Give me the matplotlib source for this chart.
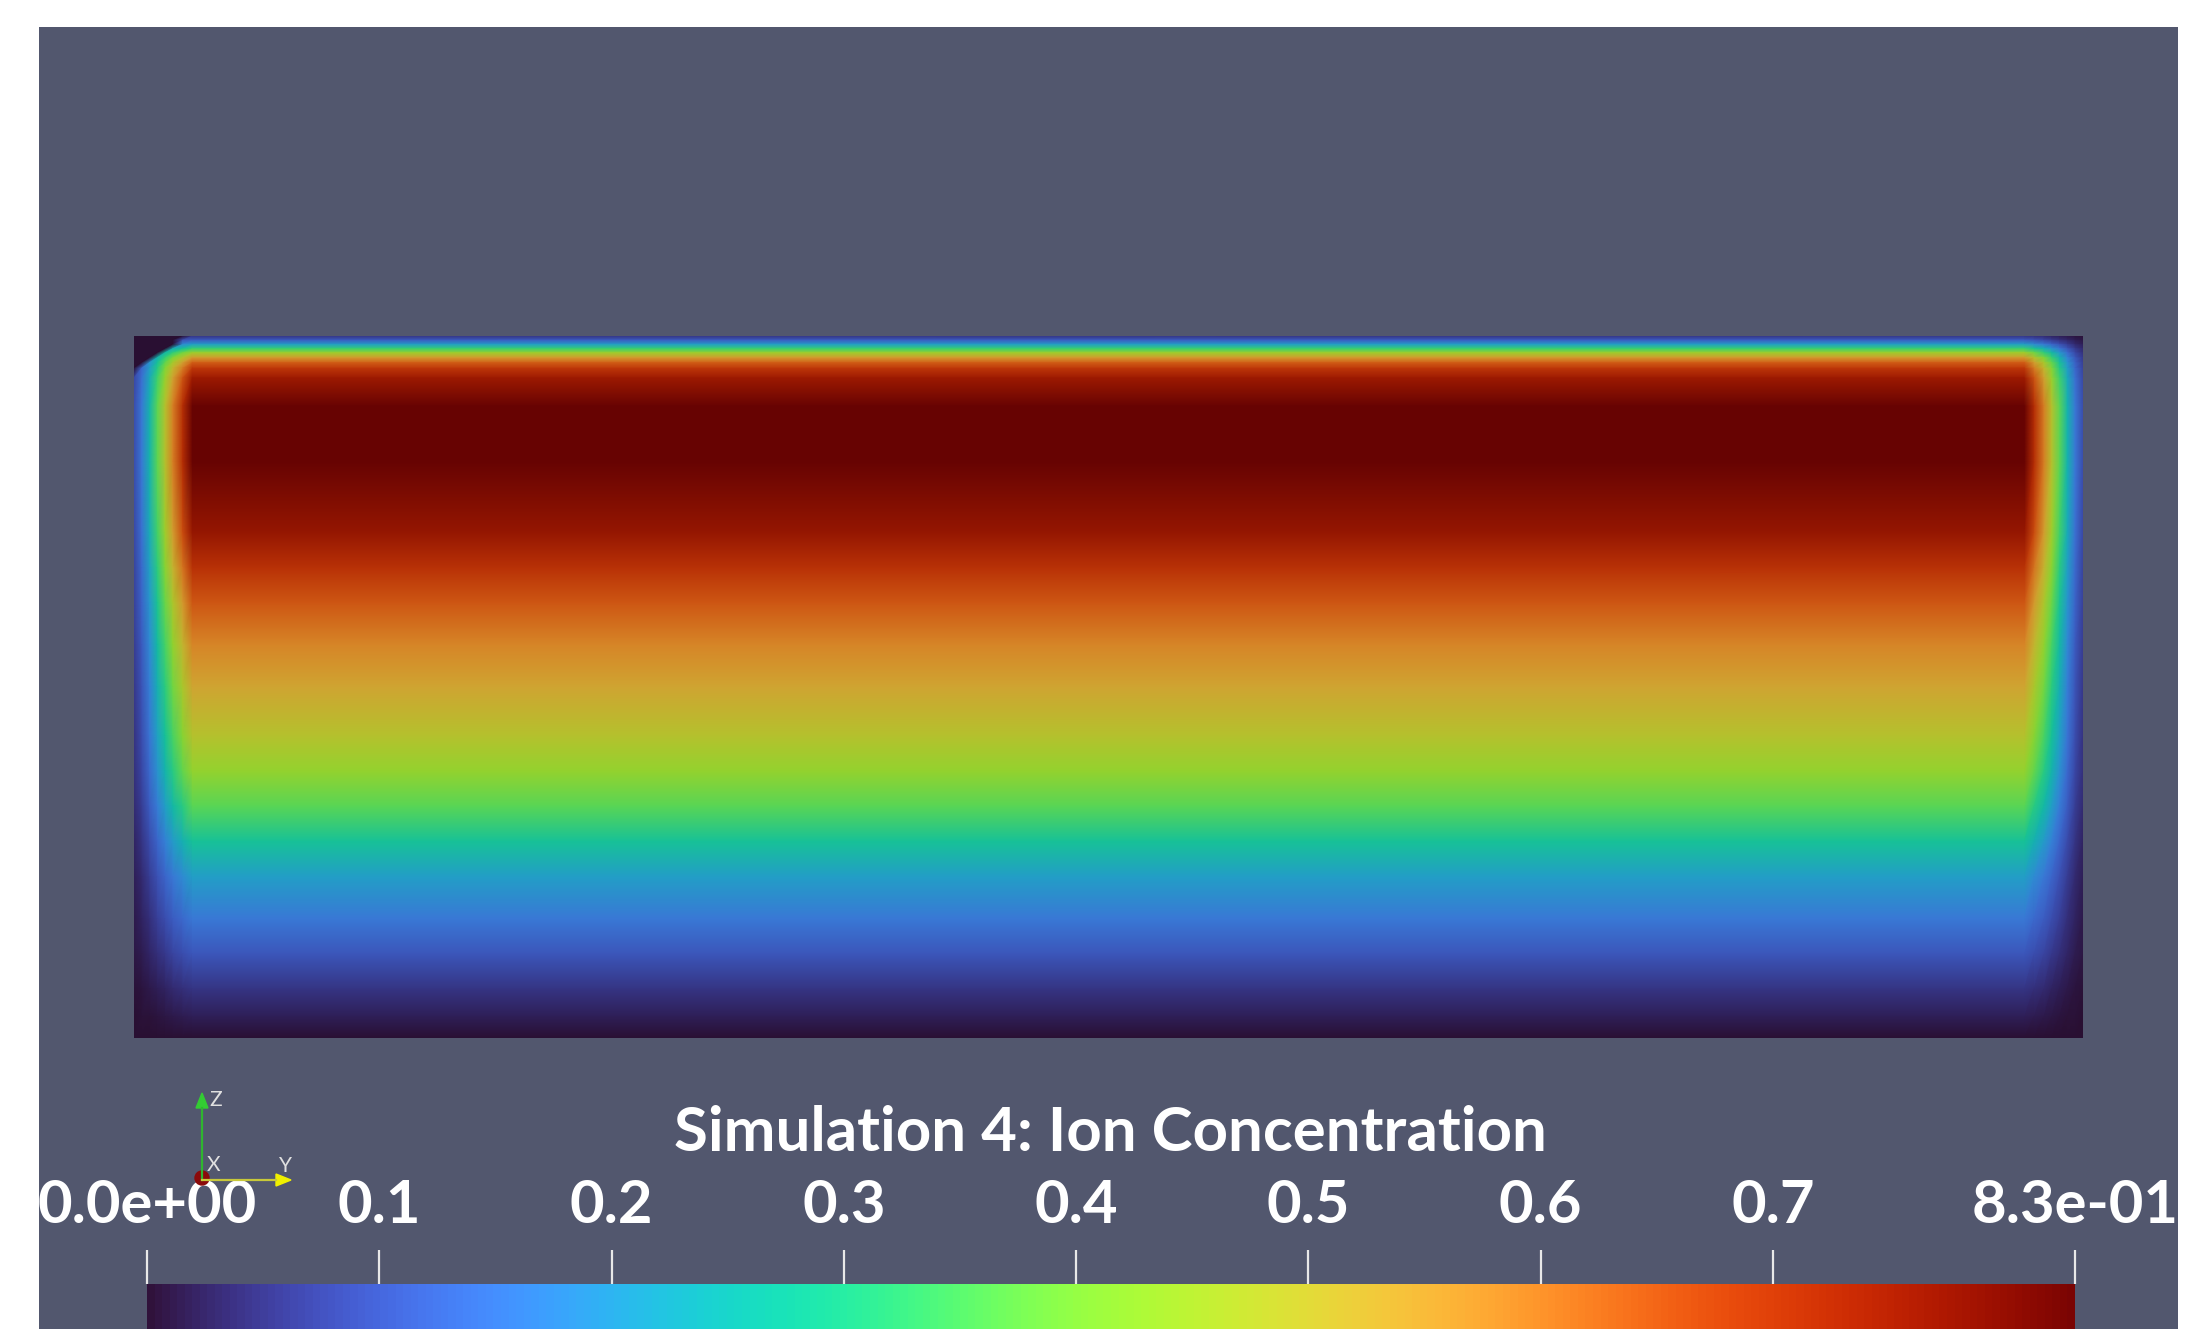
import numpy as np
import matplotlib
matplotlib.use("Agg")
import matplotlib.pyplot as plt
import matplotlib.tri as mtri
from matplotlib.colors import ListedColormap, Normalize
from matplotlib.cm import ScalarMappable
from matplotlib.patches import Polygon, Circle

# concentration down the centre column (depth measured from the top, 0..1)
depth = [0.0, 0.006, 0.012, 0.018, 0.024, 0.031, 0.038, 0.046, 0.06, 0.10,
         0.18, 0.28, 0.33, 0.38, 0.44, 0.50, 0.57, 0.62, 0.67, 0.72,
         0.77, 0.83, 0.88, 0.93, 0.97, 1.0]
conc_center = [0.05, 0.11, 0.21, 0.33, 0.45, 0.56, 0.64, 0.70, 0.76, 0.83,
               0.83, 0.77, 0.71, 0.65, 0.59, 0.54, 0.48, 0.43, 0.36, 0.28,
               0.21, 0.15, 0.10, 0.05, 0.02, 0.0]

# relative drop of concentration towards the side walls (0..1 across width)
width_pos = [0.0, 0.004, 0.008, 0.012, 0.016, 0.020, 0.025, 0.030,
             0.970, 0.975, 0.980, 0.984, 0.988, 0.992, 0.996, 1.0]
wall_factor = [0.10, 0.18, 0.30, 0.44, 0.58, 0.72, 0.86, 1.0,
               1.0, 0.86, 0.72, 0.58, 0.44, 0.30, 0.18, 0.10]

# empty cell in the top-left corner (extent along width and depth)
corner_width, corner_depth, corner_value = 0.028, 0.047, 0.0

c_min, c_max = 0.0, 0.83
cbar_ticks = [0.0, 0.1, 0.2, 0.3, 0.4, 0.5, 0.6, 0.7, 0.83]
cbar_labels = ['0.0e+00', '0.1', '0.2', '0.3', '0.4', '0.5', '0.6', '0.7',
               '8.3e-01']
title = 'Simulation 4: Ion Concentration'

W, H = 2188, 1329
BG = '#52576e'
FONT = 'Lato'


def fig_rect(x0, y0, x1, y1):
    # pixel box (top-left origin) -> figure fraction rect
    return [x0 / W, (H - y1) / H, (x1 - x0) / W, (y1 - y0) / H]


fig = plt.figure(figsize=(W / 100, H / 100), dpi=100, facecolor='white')

# grey render window
bg = fig.add_axes(fig_rect(39, 27, 2178, H))
bg.set_facecolor(BG)
bg.set_xticks([])
bg.set_yticks([])
for s in bg.spines.values():
    s.set_visible(False)

# field: gouraud shaded triangles on the node grid
xx, yy = np.meshgrid(width_pos, depth)
zz = np.outer(conc_center, wall_factor)
in_corner = xx / corner_width + yy / corner_depth < 1.0
zz[in_corner] = corner_value

nx, ny = len(width_pos), len(depth)
tris = []
for j in range(ny - 1):
    for i in range(nx - 1):
        a = j * nx + i
        b = a + 1
        c = a + nx
        d = c + 1
        tris.append([a, b, c])
        tris.append([b, d, c])
tri = mtri.Triangulation(xx.ravel(), yy.ravel(), np.array(tris))

turbo = plt.get_cmap('turbo')
shade = turbo(np.linspace(0, 1, 256))
shade[:, :3] *= 0.84
field_cmap = ListedColormap(shade)

ax = fig.add_axes(fig_rect(134, 336, 2083, 1038))
ax.tripcolor(tri, zz.ravel(), shading='gouraud', cmap=field_cmap,
             vmin=c_min, vmax=c_max)
ax.set_xlim(0, 1)
ax.set_ylim(1, 0)
ax.axis('off')

# colour legend
cax = fig.add_axes(fig_rect(147, 1284, 2075, H))
sm = ScalarMappable(norm=Normalize(c_min, c_max), cmap=turbo)
cb = fig.colorbar(sm, cax=cax, orientation='horizontal', ticks=cbar_ticks)
cb.outline.set_visible(False)
cax.xaxis.set_ticks_position('top')
cb.set_ticklabels(cbar_labels)
cax.tick_params(axis='x', direction='out', length=24.5, width=1.6,
                color='#e8e8e8', pad=12, labelsize=43, labelcolor='white')
for lab in cax.get_xticklabels():
    lab.set_fontfamily(FONT)
    lab.set_fontweight('bold')

# overlay in pixel coordinates for title and orientation triad
ov = fig.add_axes([0, 0, 1, 1])
ov.set_xlim(0, W)
ov.set_ylim(H, 0)
ov.axis('off')
ov.patch.set_alpha(0)

ov.text(1110, 1133, title, ha='center', va='center', fontsize=44.5,
        color='white', family=FONT, fontweight='bold')

ox, oy = 202, 1180
ov.plot([ox, ox], [oy, 1108], color='#2fb52f', lw=1.6)
ov.add_patch(Polygon([(ox - 6, 1108), (ox + 6, 1108), (ox, 1093)],
                     closed=True, color='#33cc33'))
ov.plot([ox, 276], [oy, oy], color='#c8c83a', lw=1.6)
ov.add_patch(Polygon([(276, oy - 6), (276, oy + 6), (291, oy)],
                     closed=True, color='#f0f000'))
ov.add_patch(Circle((ox, oy - 2), 7, color='#8b0a0a'))
ov.text(209, 1100, 'Z', fontsize=15, color='#e0e0e0', family=FONT,
        va='center', ha='left')
ov.text(207, 1165, 'X', fontsize=15, color='#e0e0e0', family=FONT,
        va='center', ha='left')
ov.text(279, 1166, 'Y', fontsize=15, color='#e0e0e0', family=FONT,
        va='center', ha='left')

fig.savefig('out.png', dpi=100, facecolor='white')
